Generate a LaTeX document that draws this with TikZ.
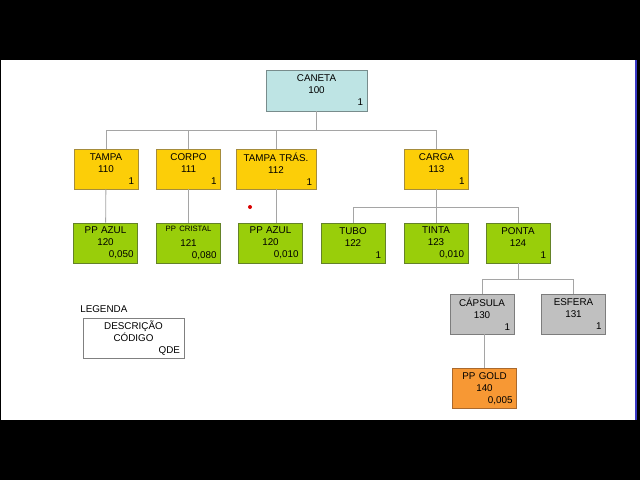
\documentclass[tikz,border=0pt]{standalone}
\usepackage{fontspec}
\setmainfont{Liberation Sans}

\definecolor{canetafill}{RGB}{190,228,228}
\definecolor{canetaline}{RGB}{120,140,140}
\definecolor{amarelo}{RGB}{252,206,8}
\definecolor{amareloline}{RGB}{165,140,60}
\definecolor{verde}{RGB}{153,206,10}
\definecolor{verdeline}{RGB}{100,130,40}
\definecolor{cinza}{RGB}{192,192,192}
\definecolor{cinzaline}{RGB}{125,125,125}
\definecolor{laranja}{RGB}{247,152,52}
\definecolor{laranjaline}{RGB}{170,105,45}
\definecolor{linha}{RGB}{165,165,165}

\newcommand{\qde}[1]{\makebox[\hsize][r]{#1}}

\begin{document}
\begin{tikzpicture}[x=0.025cm,y=-0.025cm]
\useasboundingbox (0,0) rectangle (640,480);
\fill[black] (0,0) rectangle (640,480);
\fill[white] (1,60) rectangle (636,420);
\draw[blue!55!gray, line width=0.9pt] (636,60) -- (636,420);
\fill[red!85!black] (250,207) circle (2);

\begin{scope}[every node/.style={rectangle,draw,inner sep=0pt,minimum height=1cm,
                                 minimum width=1.6cm,text width=1.4cm,align=center,
                                 font=\fontsize{7}{8.5}\selectfont},
              yellow_box/.style={fill=amarelo,draw=amareloline},
              green_box/.style={fill=verde,draw=verdeline},
              gray_box/.style={fill=cinza,draw=cinzaline}]
    \node [fill=canetafill,draw=canetaline,minimum width=2.525cm,text width=2.325cm,
           minimum height=1.025cm] (caneta) at (316.5,90.5) {CANETA\\100\\\qde{1}};
    \node [yellow_box] (tampa) at (106,169) {TAMPA\\110\\\qde{1}};
    \node [yellow_box] (corpo) at (188.5,169) {CORPO\\111\\\qde{1}};
    \node [yellow_box,minimum width=2cm,text width=1.8cm] (tampatras) at (276,169) {TAMPA TRÁS.\\112\\\qde{1}};
    \node [yellow_box] (carga) at (436.5,169) {CARGA\\113\\\qde{1}};
    \node [green_box] (azul1) at (105.5,243) {PP AZUL\\120\\\qde{0,050}};
    \node [green_box] (cristal) at (188.5,243) {{\fontsize{5.5}{6}\selectfont PP CRISTAL}\\[2.5pt]121\\\qde{0,080}};
    \node [green_box] (azul2) at (270.5,243) {PP AZUL\\120\\\qde{0,010}};
    \node [green_box] (tubo) at (353,243) {TUBO\\122\\\qde{1}};
    \node [green_box] (tinta) at (436,243) {TINTA\\123\\\qde{0,010}};
    \node [green_box] (ponta) at (518,243) {PONTA\\124\\\qde{1}};
    \node [gray_box] (capsula) at (482,314) {CÁPSULA\\130\\\qde{1}};
    \node [gray_box] (esfera) at (573.5,314) {ESFERA\\131\\\qde{1}};
    \node [fill=laranja,draw=laranjaline] (gold) at (484.5,388.5) {PP GOLD\\140\\\qde{0,005}};
    \node [draw=gray,minimum width=2.525cm,text width=2.325cm] (legenda) at (133.5,338) {DESCRIÇÃO\\CÓDIGO\\\qde{QDE}};
\end{scope}
\node [anchor=west,inner sep=0pt,font=\fontsize{7}{8.5}\selectfont] (legtitulo) at (80,309) {LEGENDA};
\begin{scope}[tree_edge/.style={draw=linha,line width=0.6pt}]
    \coordinate (bus1) at (318,130);
    \coordinate (bus2) at (440,207);
    \coordinate (bus3) at (522,279);
    \draw [tree_edge] (caneta.south) -- (caneta.south |- bus1);
    \foreach \filho in {tampa,corpo,tampatras,carga}
        \draw [tree_edge] (caneta.south |- bus1) -| (\filho.north);
    \path (tampa) edge [tree_edge] (azul1);
    \path (corpo) edge [tree_edge] (cristal);
    \draw [tree_edge] (tampatras.south) -- (tampatras.south |- azul2.north);
    \draw [tree_edge] (carga.south) -- (carga.south |- bus2);
    \foreach \filho in {tubo,tinta,ponta}
        \draw [tree_edge] (carga.south |- bus2) -| (\filho.north);
    \draw [tree_edge] (ponta.south) -- (ponta.south |- bus3);
    \foreach \filho in {capsula,esfera}
        \draw [tree_edge] (ponta.south |- bus3) -| (\filho.north);
    \draw [tree_edge] (gold.north |- capsula.south) -- (gold.north);
\end{scope}
\end{tikzpicture}
\end{document}
